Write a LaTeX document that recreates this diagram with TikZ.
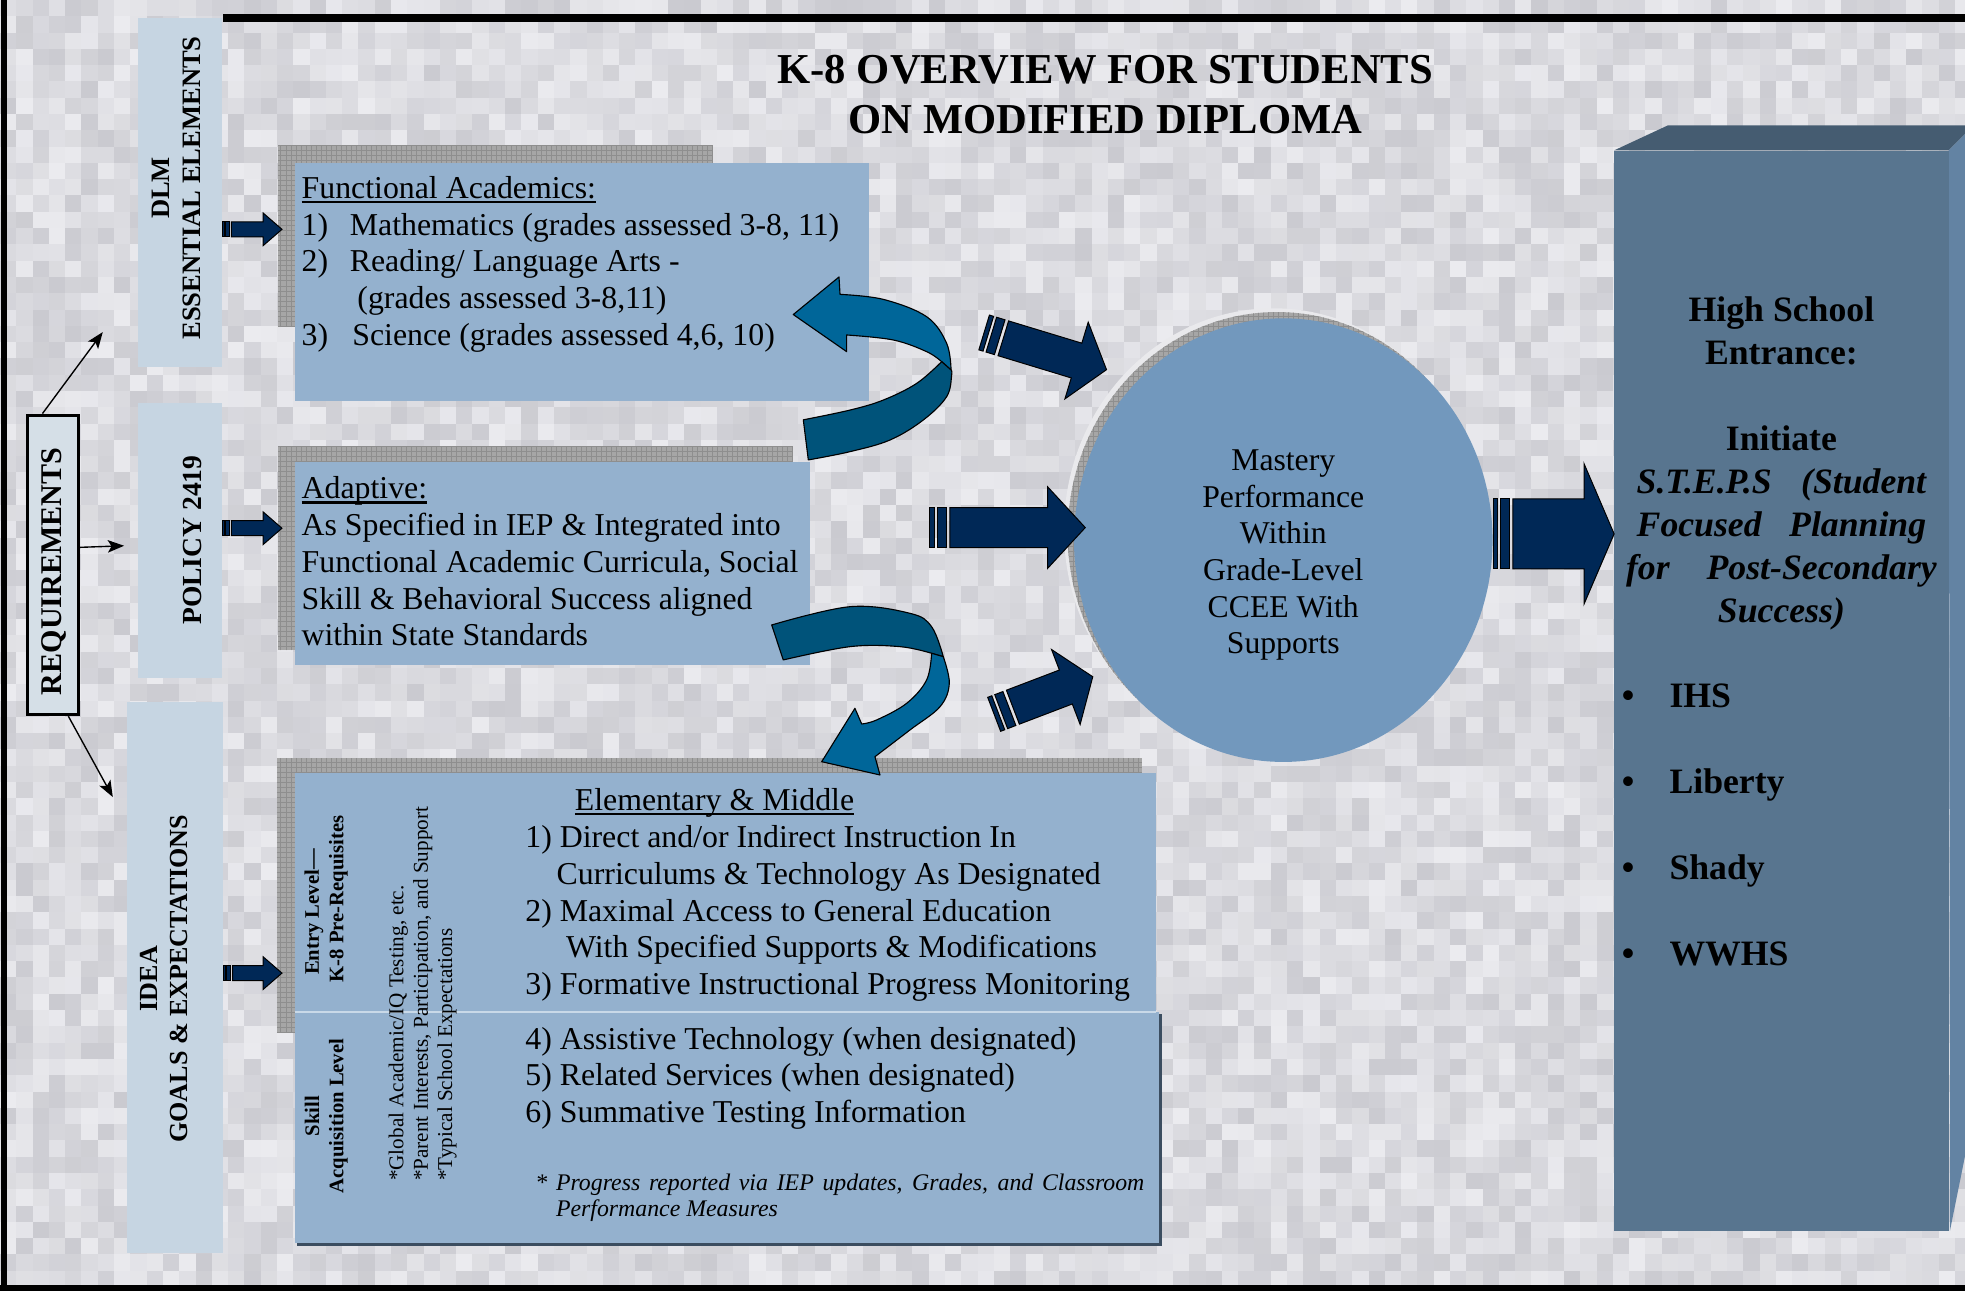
\documentclass[tikz,border=0pt]{standalone}
\usepackage{fontspec}
\setmainfont{Liberation Serif}
\usetikzlibrary{shapes.geometric,arrows.meta,calc}
\definecolor{bgc}{HTML}{D7D7DC}
\definecolor{bglo}{HTML}{CACAD0}
\definecolor{bghi}{HTML}{EBEBEF}
\definecolor{boxc}{HTML}{94B1CE}
\definecolor{lblc}{HTML}{C6D5E2}
\definecolor{reqc}{HTML}{D5DFE7}
\definecolor{circc}{HTML}{7298BD}
\definecolor{navy}{HTML}{002856}
\definecolor{curvl}{HTML}{006699}
\definecolor{curvd}{HTML}{00537A}
\definecolor{hsfront}{HTML}{58758F}
\definecolor{hstop}{HTML}{455C71}
\definecolor{hsside}{HTML}{6383A3}
\definecolor{shadc}{HTML}{A6A6A6}
\definecolor{gridc}{HTML}{8E8E8E}
\definecolor{haloc}{HTML}{E9E9EC}
\definecolor{darksh}{HTML}{3B4D60}
\definecolor{divc}{HTML}{C9D9E8}
\newcommand\st{\rule{0pt}{0.9em}}
\newsavebox\ulbox
\newcommand\ulx[1]{\sbox\ulbox{#1}\rlap{\rule[-4pt]{\wd\ulbox}{1.8pt}}\usebox\ulbox}
\newcommand\sarrow[6]{%
  \path let \p1=(#1), \p2=(#2) in \pgfextra{%
    \pgfmathsetmacro\saang{atan2(\y2-\y1,\x2-\x1)}%
    \pgfmathsetmacro\salen{veclen(\x2-\x1,\y2-\y1)}%
    \xdef\saang{\saang}\xdef\salen{\salen}};
  \begin{scope}[shift={(#1)}, rotate=\saang, x=1pt, y=1pt]
    \filldraw[navyarrow] (0,-#3) rectangle ({3.5*#6},#3);
    \filldraw[navyarrow] ({6*#6},-#3) rectangle ({13*#6},#3);
    \filldraw[navyarrow] ({16*#6},-#3) -- ({\salen-#5},-#3) -- ({\salen-#5},-#4) -- (\salen,0) -- ({\salen-#5},#4) -- ({\salen-#5},#3) -- ({16*#6},#3) -- cycle;
  \end{scope}}
\begin{document}
\begin{tikzpicture}[x=1pt,y=-1pt,
  lbox/.style={fill=lblc, draw=none, inner sep=0pt},
  cbox/.style={fill=boxc, draw=none, inner sep=0pt},
  txt/.style={inner sep=0pt, text=black},
  navyarrow/.style={fill=navy, draw=black, line width=0.8pt, line join=miter},
  thinarrow/.style={draw=black, line width=1.1pt, -{Stealth[length=13pt,width=10pt,inset=3pt]}},
  curvestyle/.style={draw=black, line width=0.9pt, line join=round},
  body/.style={txt, font=\fontsize{25.4}{29.4}\selectfont},
]
\useasboundingbox (0,0) rectangle (1568,1030);
\fill[bgc] (0,0) rectangle (1568,1030);
% mottled background
\pgfmathsetseed{4711}
\foreach \i in {0,...,120} {
  \foreach \j in {0,...,79} {
    \pgfmathrandominteger{\g}{0}{100}
    \fill[bghi!\g!bglo] ({\i*13},{\j*13}) rectangle +(13.4,13.4);
  }
}

% frame
\fill[black] (1,0) rectangle (5.5,1030);
\fill[black] (0,1025.5) rectangle (1568,1030);
\fill[black] (178,11.5) rectangle (1568,17.3);

% title
\node[txt, anchor=north, align=center, font=\fontsize{34}{40}\selectfont\bfseries] (title) at (882,35.9)
  {\st K-8 OVERVIEW FOR STUDENTS\\ON MODIFIED DIPLOMA};

% left label boxes
\node[lbox, minimum width=67pt, minimum height=279pt, anchor=north west] (dlm) at (110,14) {};
\node[txt, rotate=90, align=center, font=\fontsize{21.2}{24.5}\selectfont\bfseries] (dlmt) at (141,150) {DLM\\ESSENTIAL ELEMENTS};
\node[lbox, minimum width=67pt, minimum height=220pt, anchor=north west] (pol) at (110,321) {};
\node[txt, rotate=90, font=\fontsize{22}{24}\selectfont\bfseries] (polt) at (153.4,431) {POLICY 2419};
\node[lbox, minimum width=77pt, minimum height=440pt, anchor=north west] (idea) at (101,560) {};
\node[txt, rotate=90, align=center, font=\fontsize{20.8}{24}\selectfont\bfseries] (ideat) at (131,781) {IDEA\\GOALS \& EXPECTATIONS};

% requirements
\node[fill=reqc, draw=black, line width=2.5pt, minimum width=40.5pt, minimum height=239pt, inner sep=0pt, anchor=north west] (req) at (21,330) {};
\node[txt, rotate=90, font=\fontsize{24}{26}\selectfont\bfseries] (reqt) at (43,456) {REQUIREMENTS};
\coordinate (r1e) at (82,265);
\coordinate (r2e) at (99,435.5);
\coordinate (r3e) at (90,636);
\draw[thinarrow] ($(req.north west)!0.3!(req.north east)$) -- (r1e);
\draw[thinarrow] ($(req.east)+(0,-14)$) -- (r2e);
\draw[thinarrow] ($(req.south west)!0.78!(req.south east)$) -- (r3e);

% shadows of content boxes
\fill[shadc] (222,116) rectangle (568,261);
\draw[gridc, line width=0.35pt, step=4pt] (222,116) grid (568,261);
\fill[shadc] (222,356) rectangle (632,519);
\draw[gridc, line width=0.35pt, step=4pt] (222,356) grid (632,519);
\fill[shadc] (221,605) rectangle (911,824);
\draw[gridc, line width=0.35pt, step=4pt] (221,605) grid (911,824);

% content boxes
\node[cbox, minimum width=458pt, minimum height=190pt, anchor=north west] (fa) at (235,130) {};
\node[cbox, minimum width=411.5pt, minimum height=162pt, anchor=north west] (ad) at (235,368.5) {};
\fill[darksh] (237,809) rectangle (927,994);
\node[cbox, minimum width=690pt, minimum height=185pt, anchor=north west] (sk) at (235,807) {};
\node[cbox, minimum width=687pt, minimum height=190pt, anchor=north west] (el) at (235,617) {};
\draw[divc, line width=2pt] (el.south west) -- (el.south east);

% texts of content boxes
\node[body, anchor=north west, align=left] (fat) at (240.5,135.1)
  {\st\ulx{Functional Academics:}\\
   \makebox[38.5pt][l]{1)}Mathematics (grades assessed 3-8, 11)\\
   \makebox[38.5pt][l]{2)}Reading/ Language Arts -\\
   \hspace*{44.5pt}(grades assessed 3-8,11)\\
   \makebox[40.5pt][l]{3)}Science (grades assessed 4,6, 10)};
\node[body, anchor=north west, align=left] (adt) at (240.5,374.8)
  {\st\ulx{Adaptive:}\\
   As Specified in IEP \& Integrated into\\
   Functional Academic Curricula, Social\\
   Skill \& Behavioral Success aligned\\
   within State Standards};
\node[body, anchor=base west] (emt) at (458.5,646.6) {\ulx{Elementary \& Middle}};
\node[body, anchor=north west, align=left] (em1) at (419,653.1)
  {\st 1) Direct and/or Indirect Instruction In\\
   \hspace*{25pt}Curriculums \& Technology As Designated\\
   2) Maximal Access to General Education\\
   \hspace*{32.5pt}With Specified Supports \& Modifications\\
   3) Formative Instructional Progress Monitoring};
\node[body, anchor=north west, align=left] (em2) at (419,814.1)
  {\st 4) Assistive Technology (when designated)\\
   5) Related Services (when designated)\\
   6) Summative Testing Information};
\node[txt, anchor=north west, align=left, font=\fontsize{19}{21}\selectfont\itshape] (note) at (427,932.3)
  {\st\makebox[486pt][s]{* Progress reported via IEP updates, Grades, and Classroom}\\
   \hspace*{16.5pt}Performance Measures};
\node[txt, rotate=90, font=\fontsize{16.5}{19.4}\selectfont\bfseries] (en1) at (250.6,727.8) {Entry Level—};
\node[txt, rotate=90, font=\fontsize{16.5}{19.4}\selectfont\bfseries] (en2) at (270,717.3) {K-8 Pre-Requisites};
\node[txt, rotate=90, align=center, font=\fontsize{16.5}{19.4}\selectfont\bfseries] (sa) at (260.3,890.5) {Skill\\Acquisition Level};
\node[txt, rotate=90, anchor=west, align=left, font=\fontsize{16.9}{19.5}\selectfont] (glob) at (337.3,942.5)
  {*Global Academic/IQ Testing, etc.\\*Parent Interests, Participation, and Support\\*Typical School Expectations};

% circle
\fill[haloc] (1016,423) ellipse [x radius=167, y radius=177];
\begin{scope}
  \clip (1019,426) ellipse [x radius=167, y radius=177];
  \fill[shadc] (840,240) rectangle (1200,620);
  \draw[gridc, line width=0.35pt, step=4pt] (840,240) grid (1200,620);
\end{scope}
\node[ellipse, fill=circc, minimum width=334pt, minimum height=354pt, inner sep=0pt] (mast) at (1024,431) {};
\node[txt, anchor=north, align=center, font=\fontsize{25.3}{29.2}\selectfont] (mastt) at (1024,352.7)
  {\st Mastery\\Performance\\Within\\Grade-Level\\CCEE With\\Supports};

% high school box
\fill[hstop] (1288,120) -- (1331,100) -- (1568,100) -- (1568,107) -- (1555,120) -- cycle;
\fill[hsside] (1555,120) -- (1568,107) -- (1568,922.5) -- (1556,982) -- cycle;
\node[fill=hsfront, minimum width=267pt, minimum height=862pt, anchor=north west, inner sep=0pt] (hs) at (1288,120) {};
\node[txt, anchor=north, align=center, font=\fontsize{28.5}{34.3}\selectfont\bfseries] (hst) at (1421.5,230.6)
  {\st High School\\
   Entrance:\\[34.3pt]
   Initiate\\
   \textit{\makebox[231pt][s]{S.T.E.P.S (Student}}\\
   \textit{\makebox[231pt][s]{Focused Planning}}\\
   \textit{\makebox[248pt][s]{for Post-Secondary}}\\
   \textit{Success)}};
\node[txt, anchor=north west, align=left, font=\fontsize{28.5}{34.3}\selectfont\bfseries] (hsl) at (1294,538.4)
  {\st\makebox[38pt][l]{\textbullet}IHS\\[34.3pt]
   \makebox[38pt][l]{\textbullet}Liberty\\[34.3pt]
   \makebox[38pt][l]{\textbullet}Shady\\[34.3pt]
   \makebox[38pt][l]{\textbullet}WWHS};

% curved arrows
\filldraw[curvestyle, fill=curvl] (633,251) -- (669.5,221) -- (670.3,234.9)
  -- plot[smooth, tension=0.6] coordinates {(670.3,234.9) (704.9,238.9) (739.4,252.7) (755.4,274) (758.9,295.2)}
  -- (751.4,288.6)
  -- plot[smooth, tension=0.6] coordinates {(751.4,288.6) (739.4,280.6) (712.8,271.3) (675.6,267.3)}
  -- (675.6,280.6) -- cycle;
\filldraw[curvestyle, fill=curvd] (751.4,288.6)
  -- plot[smooth, tension=0.6] coordinates {(751.4,288.6) (731.5,305.9) (704.9,319.2) (678.3,327.2) (641,335)}
  -- (645,367)
  -- plot[smooth, tension=0.6] coordinates {(645,367) (678.3,360.4) (710.2,351.1) (736.8,335.1) (755.4,316.5) (759.4,299.2) (758.9,295.2)}
  -- cycle;
\filldraw[curvestyle, fill=curvd] (615.8,498.7)
  -- plot[smooth, tension=0.6] coordinates {(615.8,498.7) (678.3,484.1) (726.1,489.4) (743.4,500.1) (752.7,524)}
  -- (743.4,521.3)
  -- plot[smooth, tension=0.6] coordinates {(743.4,521.3) (718.2,516) (678.3,516) (625,526.6)}
  -- cycle;
\filldraw[curvestyle, fill=curvl] (752.7,524)
  -- plot[smooth, tension=0.6] coordinates {(752.7,524) (757.5,545.3) (750.1,563.9) (726.1,582.5) (698.2,603.8)}
  -- (702.2,618.4) -- (655.7,607.8) -- (682.2,565.2) -- (687.6,577.7)
  -- plot[smooth, tension=0.6] coordinates {(687.6,577.7) (699.5,574.5) (723.5,561.2) (739.4,542.6) (743.4,521.3)}
  -- cycle;

% navy striped arrows
\coordinate (a1s) at (dlm.east |- 0,183);
\coordinate (a1e) at (225,183);
\coordinate (a2s) at (pol.east |- 0,421.5);
\coordinate (a2e) at (225,421.5);
\coordinate (a3s) at (idea.east |- 0,776.5);
\coordinate (a3e) at (225,776.5);
\sarrow{a1s}{a1e}{6}{13}{15}{0.45}
\sarrow{a2s}{a2e}{6}{13}{15}{0.45}
\sarrow{a3s}{a3e}{6}{13}{15}{0.45}
\coordinate (b1s) at (785.3,265.3);
\coordinate (b1e) at (883,295);
\coordinate (b2s) at (742,421);
\coordinate (b2e) at (866,421);
\coordinate (b3s) at (793.3,570);
\coordinate (b3e) at (872,540);
\coordinate (b4s) at (1192,426);
\coordinate (b4e) at (1288,426);
\sarrow{b1s}{b1e}{14.5}{32}{25}{1}
\sarrow{b2s}{b2e}{16}{32.5}{30}{1}
\sarrow{b3s}{b3e}{14.5}{32}{23}{1}
\sarrow{b4s}{b4e}{28}{56}{24}{0.95}
\end{tikzpicture}
\end{document}
